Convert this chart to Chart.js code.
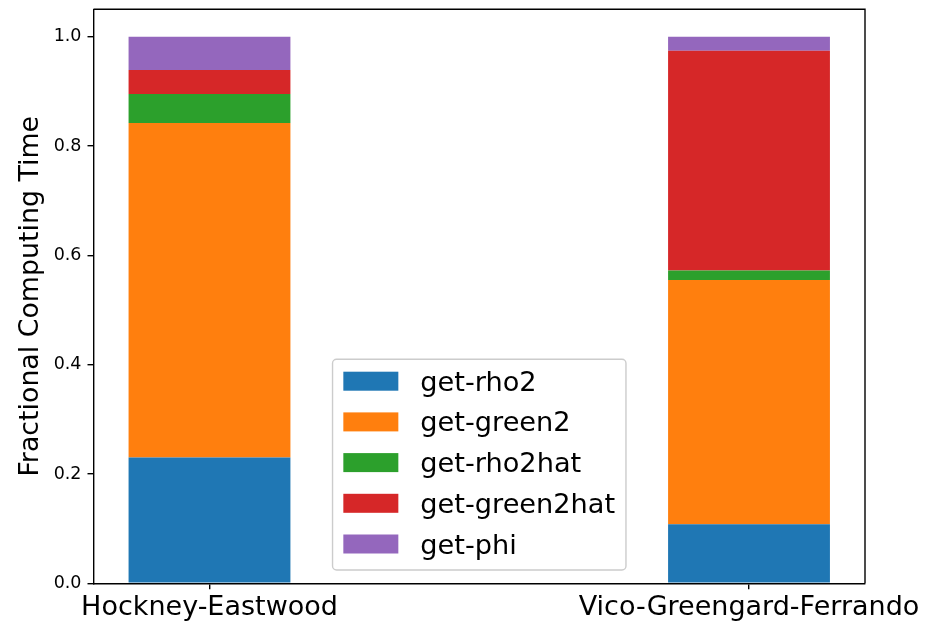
<!DOCTYPE html>
<html>
<head>
<meta charset="utf-8">
<script src="https://cdn.jsdelivr.net/npm/chart.js@4.4.1/dist/chart.umd.min.js"></script>
<style>
  html, body { margin: 0; padding: 0; background: #ffffff; }
  canvas { display: block; }
</style>
</head>
<body>
<canvas id="chart" width="928" height="621"></canvas>
<script>
// Categories along the x axis (one stacked bar each)
const categories = ['Hockney-Eastwood', 'Vico-Greengard-Ferrando'];
const categoryPositions = [0, 1];

// Fraction of total computing time spent in each routine
const getRho2      = [0.230, 0.108];
const getGreen2    = [0.612, 0.447];
const getRho2hat   = [0.053, 0.017];
const getGreen2hat = [0.044, 0.402];
const getPhi       = [0.061, 0.026];

const seriesNames  = ['get-rho2', 'get-green2', 'get-rho2hat', 'get-green2hat', 'get-phi'];
const seriesValues = [getRho2, getGreen2, getRho2hat, getGreen2hat, getPhi];
const seriesColors = ['#1f77b4', '#ff7f0e', '#2ca02c', '#d62728', '#9467bd'];

// Y axis tick labels
const yTickValues = [0.0, 0.2, 0.4, 0.6, 0.8, 1.0];

const FONT = "'DejaVu Sans', sans-serif";
const AXIS_LW = 1.4;

const datasets = seriesNames.map((name, i) => ({
  label: name,
  data: seriesValues[i].map((v, j) => ({ x: categoryPositions[j], y: v })),
  backgroundColor: seriesColors[i],
  borderWidth: 0,
  barPercentage: 0.3,
  categoryPercentage: 1.0
}));

// Closes the axes box on the top and right sides
const frameBox = {
  id: 'frameBox',
  afterDatasetsDraw(chart) {
    const { ctx, chartArea: a } = chart;
    ctx.save();
    ctx.strokeStyle = '#000';
    ctx.lineWidth = AXIS_LW;
    ctx.beginPath();
    ctx.moveTo(a.left, a.top);
    ctx.lineTo(a.right, a.top);
    ctx.lineTo(a.right, a.bottom);
    ctx.stroke();
    ctx.restore();
  }
};

// Legend drawn inside the plot, anchored at the lower centre
const innerLegend = {
  id: 'innerLegend',
  afterDraw(chart) {
    const { ctx, chartArea: a } = chart;
    const fs = 27.2;
    const pad = 10.8, handleW = 55, handleH = 19, gap = 22;
    const rowStep = 40.7, topPad = 12.4, bottomPad = 16.5;
    const items = chart.data.datasets;
    ctx.save();
    ctx.font = fs + 'px ' + FONT;
    let maxW = 0;
    items.forEach(d => { maxW = Math.max(maxW, ctx.measureText(d.label).width); });
    const boxW = pad + handleW + gap + maxW + pad;
    const boxH = topPad + (items.length - 1) * rowStep + handleH + bottomPad;
    const bx = (a.left + a.right) / 2 - boxW / 2;
    const by = a.bottom - 13.3 - boxH;

    ctx.beginPath();
    ctx.roundRect(bx, by, boxW, boxH, 4);
    ctx.fillStyle = 'rgba(255,255,255,0.8)';
    ctx.fill();
    ctx.strokeStyle = '#cccccc';
    ctx.lineWidth = 1.4;
    ctx.stroke();

    items.forEach((d, i) => {
      const py = by + topPad + i * rowStep;
      ctx.fillStyle = d.backgroundColor;
      ctx.fillRect(bx + pad, py, handleW, handleH);
      ctx.fillStyle = '#000';
      ctx.textAlign = 'left';
      ctx.textBaseline = 'alphabetic';
      ctx.fillText(d.label, bx + pad + handleW + gap, py + handleH);
    });
    ctx.restore();
  }
};

new Chart(document.getElementById('chart'), {
  type: 'bar',
  data: { datasets },
  options: {
    responsive: false,
    animation: false,
    devicePixelRatio: 1,
    layout: { padding: { top: 9.3, right: 63, bottom: 0, left: 0 } },
    plugins: {
      legend: { display: false },
      tooltip: { enabled: false }
    },
    scales: {
      x: {
        type: 'linear',
        stacked: true,
        offset: false,
        min: -0.215,
        max: 1.215,
        afterBuildTicks(scale) {
          scale.ticks = categoryPositions.map(v => ({ value: v }));
        },
        afterFit(scale) {
          scale.height = 37.7;
          scale.paddingLeft = 0;
          scale.paddingRight = 0;
        },
        ticks: {
          autoSkip: false,
          maxRotation: 0,
          minRotation: 0,
          padding: 2,
          color: '#000',
          font: { family: FONT, size: 27 },
          callback: (v) => categories[categoryPositions.indexOf(v)]
        },
        grid: {
          offset: false,
          drawOnChartArea: false,
          drawTicks: true,
          tickLength: 6,
          color: '#000',
          lineWidth: AXIS_LW
        },
        border: { color: '#000', width: AXIS_LW }
      },
      y: {
        stacked: true,
        min: 0,
        max: 1.05,
        afterBuildTicks(scale) {
          scale.ticks = yTickValues.map(v => ({ value: v }));
        },
        afterFit(scale) {
          scale.width = 93.5;
          scale.paddingTop = 0;
          scale.paddingBottom = 0;
        },
        ticks: {
          padding: 6,
          color: '#000',
          font: { family: FONT, size: 17.5 },
          callback: (v) => Number(v).toFixed(1)
        },
        grid: {
          drawOnChartArea: false,
          drawTicks: true,
          tickLength: 6,
          color: '#000',
          lineWidth: AXIS_LW
        },
        border: { color: '#000', width: AXIS_LW },
        title: {
          display: true,
          text: 'Fractional Computing Time',
          color: '#000',
          font: { family: FONT, size: 26.8 },
          padding: { top: 15, bottom: 0 }
        }
      }
    }
  },
  plugins: [frameBox, innerLegend]
});
</script>
</body>
</html>
